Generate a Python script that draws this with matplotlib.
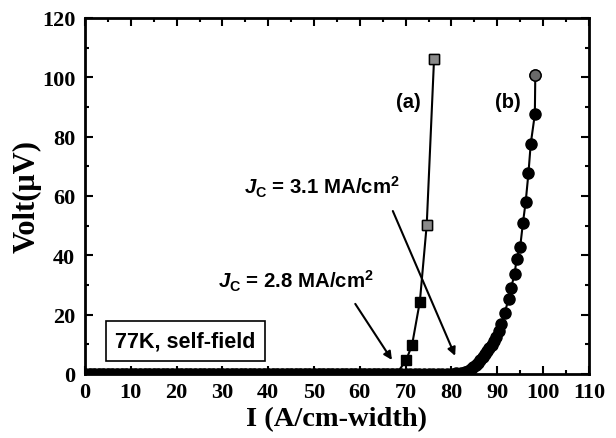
import matplotlib
matplotlib.use("Agg")
import matplotlib.pyplot as plt

plt.rcParams['mathtext.fontset'] = 'custom'
plt.rcParams['mathtext.it'] = 'Liberation Sans:italic:bold'
plt.rcParams['mathtext.rm'] = 'Liberation Sans:bold'
plt.rcParams['mathtext.bf'] = 'Liberation Sans:bold'

# Series (a): current (A/cm-width) and voltage (uV)
a_current = [0, 1, 2, 3, 4, 5, 6, 7, 8, 9, 10, 11, 12, 13, 14, 15, 16, 17, 18, 19,
             20, 21, 22, 23, 24, 25, 26, 27, 28, 29, 30, 31, 32, 33, 34, 35, 36, 37, 38, 39,
             40, 41, 42, 43, 44, 45, 46, 47, 48, 49, 50, 51, 52, 53, 54, 55, 56, 57, 58, 59,
             60, 61, 62, 63, 64, 65, 66, 67, 68,
             70.1, 71.4, 73.1, 74.6, 76.2]
a_volt = [0, 0, 0, 0, 0, 0, 0, 0, 0, 0, 0, 0, 0, 0, 0, 0, 0, 0, 0, 0,
          0, 0, 0, 0, 0, 0, 0, 0, 0, 0, 0, 0, 0, 0, 0, 0, 0, 0, 0, 0,
          0, 0, 0, 0, 0, 0, 0, 0, 0, 0, 0, 0, 0, 0, 0, 0, 0, 0, 0, 0,
          0, 0, 0, 0, 0, 0, 0, 0, 0,
          4.6, 9.8, 24.4, 50.3, 106.3]

# Series (b)
b_current = [0, 1, 2, 3, 4, 5, 6, 7, 8, 9, 10, 11, 12, 13, 14, 15, 16, 17, 18, 19,
             20, 21, 22, 23, 24, 25, 26, 27, 28, 29, 30, 31, 32, 33, 34, 35, 36, 37, 38, 39,
             40, 41, 42, 43, 44, 45, 46, 47, 48, 49, 50, 51, 52, 53, 54, 55, 56, 57, 58, 59,
             60, 61, 62, 63, 64, 65, 66, 67, 68, 69, 70, 71, 72, 73, 74, 75, 76, 77, 78, 79,
             80, 81, 82, 83, 83.6, 84.2, 84.8, 85.3, 85.8, 86.3, 86.8, 87.3, 87.8, 88.3,
             88.8, 89.3, 89.8, 90.3, 90.9, 91.6, 92.5, 93.0, 93.8, 94.2, 95.0, 95.6, 96.2,
             96.8, 97.3, 98.2, 98.3]
b_volt = [0, 0, 0, 0, 0, 0, 0, 0, 0, 0, 0, 0, 0, 0, 0, 0, 0, 0, 0, 0,
          0, 0, 0, 0, 0, 0, 0, 0, 0, 0, 0, 0, 0, 0, 0, 0, 0, 0, 0, 0,
          0, 0, 0, 0, 0, 0, 0, 0, 0, 0, 0, 0, 0, 0, 0, 0, 0, 0, 0, 0,
          0, 0, 0, 0, 0, 0, 0, 0, 0, 0, 0, 0, 0, 0, 0, 0, 0, 0, 0, 0,
          0.1, 0.2, 0.3, 0.6, 1.0, 1.6, 2.3, 3.0, 3.8, 4.7, 5.6, 6.6, 7.6, 8.7,
          9.9, 11.2, 12.6, 14.3, 16.9, 20.6, 25.3, 29.0, 33.7, 38.8, 42.8, 50.9, 58.0,
          67.6, 77.5, 87.5, 100.8]

annot_labels = ["(a)", "(b)"]
jc_labels = [r"$J_{\mathrm{C}}$ = 3.1 MA/cm$^{2}$", r"$J_{\mathrm{C}}$ = 2.8 MA/cm$^{2}$"]
box_label = "77K, self-field"

fig = plt.figure(figsize=(6.16, 4.39), dpi=100)
ax = fig.add_axes([0.138, 0.146, 0.818, 0.811])

ax.plot(b_current, b_volt, '-', color='black', lw=1.5, marker='o', ms=8,
        mfc='black', mec='black', zorder=3)
ax.plot(a_current, a_volt, '-', color='black', lw=1.5, marker='s', ms=7.5,
        mfc='black', mec='black', zorder=4)
# scanned-looking lighter top markers
ax.plot(a_current[-2:], a_volt[-2:], 's', ms=7.5, mfc='#8a8a8a', mec='black', mew=1, zorder=5)
ax.plot(b_current[-1:], b_volt[-1:], 'o', ms=8, mfc='#6a6a6a', mec='black', mew=1, zorder=5)

ax.set_xlim(0, 110)
ax.set_ylim(0, 120)
ax.set_xticks(range(0, 111, 10))
ax.set_yticks(range(0, 121, 20))
ax.set_xticks(range(5, 110, 10), minor=True)
ax.set_yticks(range(10, 120, 20), minor=True)
ax.tick_params(which='both', direction='in', top=True, right=True, width=1.5)
ax.tick_params(which='major', length=6)
ax.tick_params(which='minor', length=3)
ax.tick_params(axis='x', which='major', pad=6)
ax.tick_params(axis='y', which='major', pad=7)
for s in ax.spines.values():
    s.set_linewidth(2)

for lab in ax.get_xticklabels() + ax.get_yticklabels():
    lab.set_family('Liberation Serif')
    lab.set_fontweight('bold')
    lab.set_fontsize(16)

ax.set_xlabel("I (A/cm-width)", family='Liberation Serif', fontweight='bold', fontsize=20.5, labelpad=3)
ax.set_ylabel("Volt(μV)", family='Liberation Serif', fontweight='bold', fontsize=22, labelpad=0)

ax.text(70.5, 91.7, annot_labels[0], ha='center', va='center', fontsize=14.5,
        fontweight='bold', family='Liberation Sans')
ax.text(92.4, 91.7, annot_labels[1], ha='center', va='center', fontsize=14.5,
        fontweight='bold', family='Liberation Sans')

ax.text(51.7, 63.3, jc_labels[0], ha='center', va='center', fontsize=14.7,
        fontweight='bold', family='Liberation Sans')
ax.text(46.1, 31.5, jc_labels[1], ha='center', va='center', fontsize=14.7,
        fontweight='bold', family='Liberation Sans')

ax.annotate("", xy=(80.8, 6.1), xytext=(67.2, 54.9),
            arrowprops=dict(arrowstyle='-|>', color='black', lw=1.5, mutation_scale=12,
                            shrinkA=0, shrinkB=0))
ax.annotate("", xy=(67.0, 4.7), xytext=(59.0, 23.6),
            arrowprops=dict(arrowstyle='-|>', color='black', lw=1.5, mutation_scale=12,
                            shrinkA=0, shrinkB=0))

ax.text(21.9, 11.1, box_label, ha='center', va='center', fontsize=15.5,
        fontweight='bold', family='Liberation Sans',
        bbox=dict(boxstyle='square,pad=0.42', fc='white', ec='black', lw=1.2))

fig.savefig("out.png", dpi=100)
